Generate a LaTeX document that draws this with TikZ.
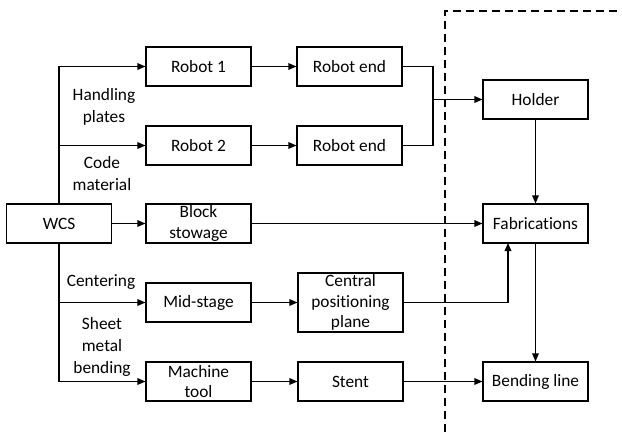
\documentclass[tikz,border=0pt]{standalone}
\usepackage{fontspec}
\setmainfont[Ligatures=NoCommon]{Carlito}
\usetikzlibrary{arrows.meta}

\tikzset{
  block/.style={draw, line width=0.9pt, minimum width=78.75pt, minimum height=29.25pt,
    inner sep=1pt, align=center, font=\fontsize{13}{15.5}\selectfont},
  lbl/.style={inner sep=0pt, align=center, font=\fontsize{13}{16.5}\selectfont},
  flow/.style={line width=0.9pt, -{Triangle[length=6pt,width=5pt]}},
  wire/.style={line width=0.9pt}
}

\begin{document}
\begin{tikzpicture}[x=0.75pt,y=0.75pt,yscale=-1]
\useasboundingbox (0,0) rectangle (622,432);

% left column
\node[block] (wcs) at (59,223.5) {WCS};

% middle columns
\node[block] (robot1) at (198.5,66.5) {Robot 1};
\node[block] (robot2) at (198.5,145.5) {Robot 2};
\node[block] (stowage) at (198.5,223.5) {Block\\stowage};
\node[block] (midstage) at (198.5,302.5) {Mid-stage};
\node[block] (machine) at (198.5,381.5) {Machine\\tool};

\node[block] (end1) at (349.5,66.5) {Robot end};
\node[block] (end2) at (349.5,145.5) {Robot end};
\node[block, minimum height=44.25pt] (central) at (350.5,302.5) {Central\\positioning\\plane};
\node[block] (stent) at (350.5,381.5) {Stent};

% right column
\node[block] (holder) at (535.5,99.5) {Holder};
\node[block] (fab) at (535.5,223.5) {Fabrications};
\node[block] (bendline) at (535.5,381.5) {Bending line};

% branch labels
\node[lbl] (handling) at (104,107) {Handling\\plates};
\node[lbl] (code) at (102,173.5) {Code\\material};
\node[lbl] (centering) at (101,282) {Centering};
\node[lbl] (sheet) at (102,346.5) {Sheet\\metal\\bending};

% helper points
\coordinate (join) at (433,99.5);
\coordinate (fabin) at (508,243);

% trunk from WCS
\draw[flow] (wcs.north) |- (robot1.west);
\draw[flow] (wcs.north |- robot2.west) -- (robot2.west);
\draw[flow] (wcs.east) -- (stowage.west);
\draw[flow] (wcs.south |- midstage.west) -- (midstage.west);
\draw[flow] (wcs.south) |- (machine.west);

\draw[flow] (robot1) -- (end1);
\draw[flow] (robot2) -- (end2);
\draw[flow] (midstage) -- (central);
\draw[flow] (machine) -- (stent);

% robot ends merge into holder
\draw[wire] (end1.east) -| (join);
\draw[wire] (end2.east) -| (join);
\draw[flow] (join) -- (holder.west);

\draw[flow] (stowage.east) -- (fab.west);
\draw[flow] (central.east) -| (fabin);
\draw[flow] (holder) -- (fab);
\draw[flow] (fab) -- (bendline);
\draw[flow] (stent) -- (bendline);

% plant boundary
\draw[line width=0.9pt, dash pattern=on 6pt off 3.75pt] (445,432) -- (445,11) -- (622,11);

\end{tikzpicture}
\end{document}
